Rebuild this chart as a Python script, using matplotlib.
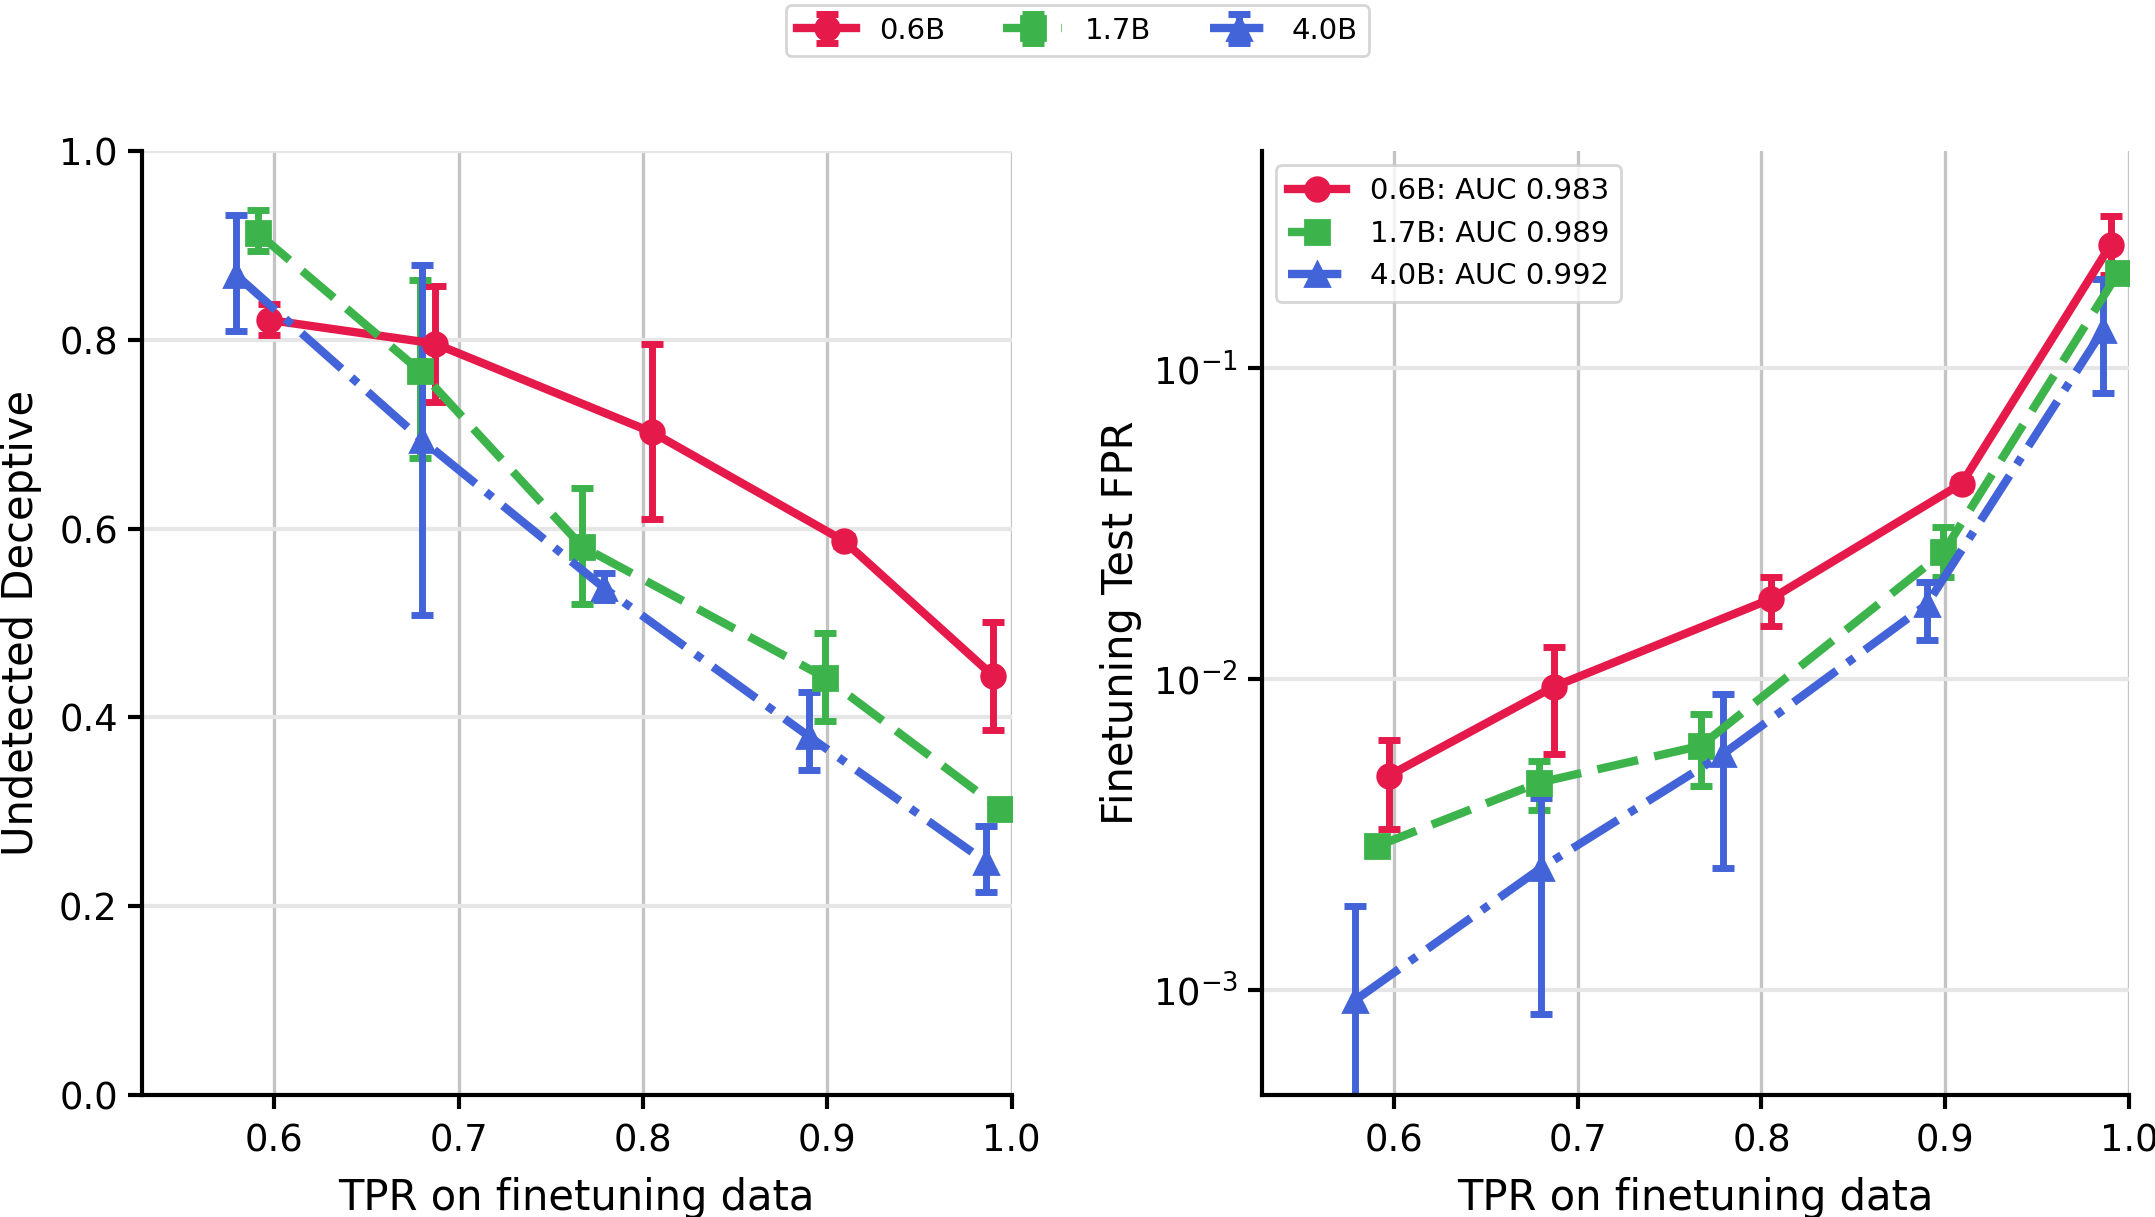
import numpy as np
import matplotlib
matplotlib.use('Agg')
import matplotlib.pyplot as plt
from matplotlib.lines import Line2D

models = ['0.6B', '1.7B', '4.0B']
aucs = ['0.983', '0.989', '0.992']

# TPR on finetuning data (x)
tpr_06 = [0.597, 0.687, 0.805, 0.909, 0.990]
tpr_17 = [0.591, 0.679, 0.767, 0.899, 0.994]
tpr_40 = [0.579, 0.680, 0.779, 0.890, 0.986]

# undetected deceptive (left)
und_06 = [0.821, 0.796, 0.702, 0.587, 0.444]
und_06_lo = [0.805, 0.734, 0.610, 0.582, 0.387]
und_06_hi = [0.838, 0.857, 0.795, 0.592, 0.501]
und_17 = [0.913, 0.767, 0.581, 0.442, 0.303]
und_17_lo = [0.894, 0.675, 0.520, 0.396, 0.298]
und_17_hi = [0.937, 0.863, 0.643, 0.489, 0.308]
und_40 = [0.869, 0.694, 0.537, 0.380, 0.247]
und_40_lo = [0.809, 0.508, 0.524, 0.344, 0.215]
und_40_hi = [0.932, 0.879, 0.553, 0.427, 0.285]

# finetuning test FPR (right)
fpr_06 = [0.00489, 0.00946, 0.0181, 0.0426, 0.249]
fpr_06_lo = [0.00329, 0.00574, 0.0148, 0.0410, 0.200]
fpr_06_hi = [0.00637, 0.0127, 0.0213, 0.0442, 0.309]
fpr_17 = [0.00291, 0.00465, 0.00611, 0.0256, 0.202]
fpr_17_lo = [0.00285, 0.00379, 0.00455, 0.0213, 0.190]
fpr_17_hi = [0.00297, 0.00546, 0.00771, 0.0308, 0.210]
fpr_40 = [0.00093, 0.00247, 0.00574, 0.0174, 0.133]
fpr_40_lo = [0.0003, 0.00084, 0.00247, 0.0134, 0.0833]
fpr_40_hi = [0.00186, 0.00415, 0.00899, 0.0205, 0.194]

colors = ['#e6194b', '#3cb44b', '#4363d8']
markers = ['o', 's', '^']
styles = ['-', (0, (5, 2)), '-.']

def yerr(v, lo, hi):
    v, lo, hi = np.array(v), np.array(lo), np.array(hi)
    return np.vstack([v - lo, hi - v])

xs = [tpr_06, tpr_17, tpr_40]
left = [(und_06, und_06_lo, und_06_hi), (und_17, und_17_lo, und_17_hi), (und_40, und_40_lo, und_40_hi)]
right = [(fpr_06, fpr_06_lo, fpr_06_hi), (fpr_17, fpr_17_lo, fpr_17_hi), (fpr_40, fpr_40_lo, fpr_40_hi)]

fig = plt.figure(figsize=(10.775, 6.085), dpi=200)
ax1 = fig.add_axes([0.0657, 0.1002, 0.4037, 0.7758])
ax2 = fig.add_axes([0.5855, 0.1002, 0.4024, 0.7758])

kw = dict(linewidth=3, markersize=8.5, elinewidth=2.5, capsize=4, capthick=2.5)
handles = []
for i in range(3):
    h = ax1.errorbar(xs[i], left[i][0], yerr=yerr(*left[i]), color=colors[i],
                     marker=markers[i], linestyle=styles[i], label=models[i], **kw)
    handles.append(h)
    ax2.errorbar(xs[i], right[i][0], yerr=yerr(*right[i]), color=colors[i],
                 marker=markers[i], linestyle=styles[i], **kw)

ax2.set_yscale('log')
ax2.minorticks_off()
ax1.set_ylim(0, 1.0)
ax2.set_ylim(4.6e-4, 0.5)
for ax in (ax1, ax2):
    ax.set_xlim(0.528, 1.0)
    ax.set_xticks([0.6, 0.7, 0.8, 0.9, 1.0])
    ax.xaxis.grid(True, color='#c4c4c4', linewidth=1.2)
    ax.yaxis.grid(True, color='#e6e6e6', linewidth=1.5)
    ax.set_axisbelow(True)
    ax.spines['top'].set_visible(False)
    ax.spines['right'].set_visible(False)
    ax.spines['left'].set_linewidth(1.5)
    ax.spines['bottom'].set_linewidth(1.5)
    ax.tick_params(labelsize=13.3, width=1.5, length=5)
    ax.tick_params(axis='x', pad=5)
    ax.set_xlabel('TPR on finetuning data', fontsize=15, labelpad=6)

ax1.set_ylabel('Undetected Deceptive', fontsize=15, labelpad=6)
ax2.set_ylabel('Finetuning Test FPR', fontsize=15)

leg_h = [Line2D([], [], color=colors[i], marker=markers[i], linestyle=styles[i],
                linewidth=3, markersize=8.5) for i in range(3)]
ax2.legend(leg_h, [m + ': AUC ' + a for m, a in zip(models, aucs)],
           loc='upper left', fontsize=10.5)

fig.legend(handles, models, loc='upper center', bbox_to_anchor=(0.5, 1.008),
           ncol=3, fontsize=10.5)

fig.savefig('out.png', dpi=200)
